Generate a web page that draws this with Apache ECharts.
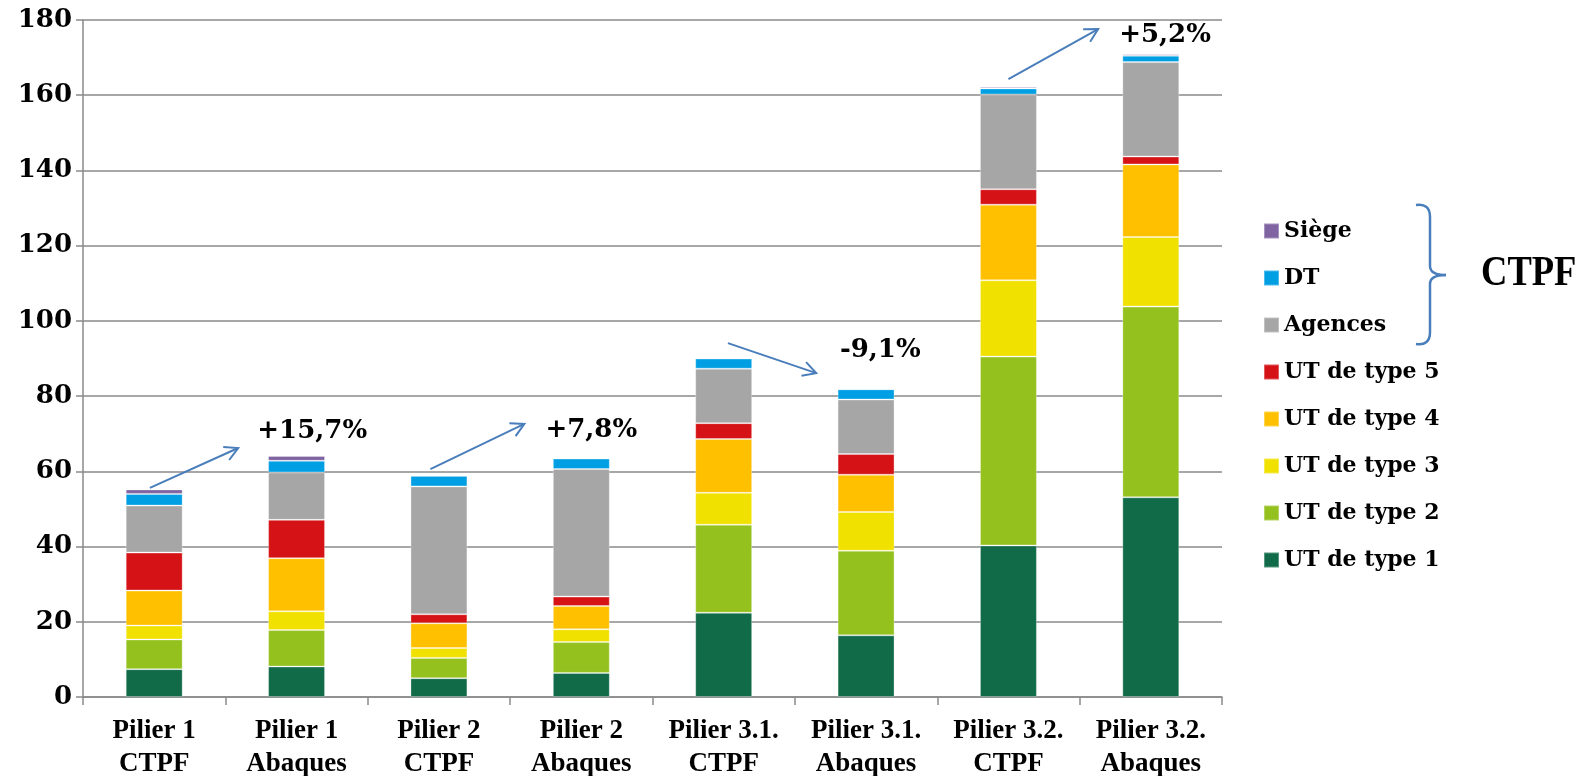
<!DOCTYPE html>
<html>
<head>
<meta charset="utf-8">
<script src="https://cdn.jsdelivr.net/npm/echarts@6/dist/echarts.min.js"></script>
<style>
  html, body { margin: 0; padding: 0; background: #fff; }
  #chart { width: 1582px; height: 776px; }
</style>
</head>
<body>
<div id="chart"></div>
<script>
// categories (x axis)
const categories = ['Pilier 1\nCTPF', 'Pilier 1\nAbaques', 'Pilier 2\nCTPF', 'Pilier 2\nAbaques',
                    'Pilier 3.1.\nCTPF', 'Pilier 3.1.\nAbaques', 'Pilier 3.2.\nCTPF', 'Pilier 3.2.\nAbaques']

// stacked series, bottom to top
const ut1     = [7.4, 8.1, 5.0, 6.4, 22.4, 16.4, 40.3, 53.1]
const ut2     = [7.9, 9.7, 5.4, 8.2, 23.4, 22.5, 50.2, 50.7]
const ut3     = [3.7, 5.0, 2.6, 3.4, 8.5, 10.3, 20.3, 18.5]
const ut4     = [9.3, 14.1, 6.6, 6.2, 14.3, 9.9, 20.1, 19.3]
const ut5     = [10.1, 10.2, 2.4, 2.5, 4.2, 5.5, 4.1, 2.1]
const agences = [12.5, 12.6, 34.0, 33.9, 14.5, 14.5, 25.2, 25.1]
const dt      = [3.1, 3.1, 2.8, 2.8, 2.7, 2.7, 1.6, 1.7]
const siege   = [1.2, 1.3, 0, 0.2, 0, 0, 0.4, 0.4]

// y axis
const yMin = 0
const yMax = 180
const yStep = 20

// variation labels (CTPF -> Abaques)
const changeLabels = ['+15,7%', '+7,8%', '-9,1%', '+5,2%']

const seriesDefs = [
    { name: 'UT de type 1', data: ut1, color: '#116b49' },
    { name: 'UT de type 2', data: ut2, color: '#95c11f' },
    { name: 'UT de type 3', data: ut3, color: '#f1e100' },
    { name: 'UT de type 4', data: ut4, color: '#ffc000' },
    { name: 'UT de type 5', data: ut5, color: '#d51317' },
    { name: 'Agences', data: agences, color: '#a6a6a6' },
    { name: 'DT', data: dt, color: '#009fe3' },
    { name: 'Siège', data: siege, color: '#8064a2' }
]

// annotation placement: [category, offset in category widths, y value]
const arrowPos = [
    { from: [0, -0.03, 55.6], to: [0, 0.59, 66.2] },
    { from: [2, -0.06, 60.6], to: [2, 0.60, 72.6] },
    { from: [4, 0.03, 94.1], to: [4, 0.65, 86.1] },
    { from: [6, 0.00, 164.3], to: [6, 0.63, 177.6] }
]
const labelPos = [[1, 0.11, 70.6], [3, 0.07, 71], [5, 0.10, 92.2], [7, 0.10, 175.9]]

const serif = '"DejaVu Serif", serif'
const gridColor = '#8a8a8a'
const arrowColor = '#4a7ebb'

const chart = echarts.init(document.getElementById('chart'))

const option = {
    animation: false,
    grid: { left: 83, right: 360, top: 20, bottom: 79, containLabel: false, outerBoundsMode: 'none' },
    legend: {
        orient: 'vertical',
        left: 1263,
        top: 220,
        padding: 0,
        icon: 'rect',
        itemWidth: 15,
        itemHeight: 15,
        itemGap: 25,
        data: ['Siège', 'DT', 'Agences', 'UT de type 5', 'UT de type 4', 'UT de type 3', 'UT de type 2', 'UT de type 1'],
        textStyle: { color: '#000', fontFamily: serif, fontWeight: 'bold', fontSize: 22, lineHeight: 22 }
    },
    xAxis: {
        type: 'category',
        data: categories,
        axisLine: { lineStyle: { color: gridColor, width: 1.5 } },
        axisTick: { show: true, interval: 0, length: 8, lineStyle: { color: gridColor, width: 1.5 } },
        axisLabel: {
            interval: 0,
            margin: 18,
            color: '#000',
            fontFamily: '"Liberation Serif", serif',
            fontWeight: 'bold',
            fontSize: 27,
            lineHeight: 33
        }
    },
    yAxis: {
        type: 'value',
        min: yMin,
        max: yMax,
        interval: yStep,
        axisLine: { show: true, lineStyle: { color: gridColor, width: 1.5 } },
        axisTick: { show: true, length: 7, lineStyle: { color: gridColor, width: 1.5 } },
        splitLine: { lineStyle: { color: gridColor, width: 1.5 } },
        axisLabel: { color: '#000', fontFamily: serif, fontWeight: 'bold', fontSize: 26, margin: 11 }
    },
    series: seriesDefs.map(s => ({
        name: s.name,
        type: 'bar',
        stack: 'total',
        barWidth: '40%',
        data: s.data,
        itemStyle: { color: s.color, borderColor: 'rgba(255,255,255,0.3)', borderWidth: 1 }
    }))
}

chart.setOption(option)

// annotations placed through the chart's own scales
const catW = chart.convertToPixel({ gridIndex: 0 }, [1, 0])[0] - chart.convertToPixel({ gridIndex: 0 }, [0, 0])[0]
function toPx(p) {
    const pt = chart.convertToPixel({ gridIndex: 0 }, [p[0], p[2]])
    return [pt[0] + p[1] * catW, pt[1]]
}

const graphics = []
arrowPos.forEach(a => {
    const s = toPx(a.from)
    const e = toPx(a.to)
    const ang = Math.atan2(e[1] - s[1], e[0] - s[0])
    const headLen = 15
    const spread = 0.5
    const h1 = [e[0] - headLen * Math.cos(ang - spread), e[1] - headLen * Math.sin(ang - spread)]
    const h2 = [e[0] - headLen * Math.cos(ang + spread), e[1] - headLen * Math.sin(ang + spread)]
    graphics.push({
        type: 'line', z: 100,
        shape: { x1: s[0], y1: s[1], x2: e[0], y2: e[1] },
        style: { stroke: arrowColor, lineWidth: 2 }
    })
    graphics.push({
        type: 'polyline', z: 100,
        shape: { points: [h1, e, h2] },
        style: { stroke: arrowColor, lineWidth: 2, fill: null }
    })
})
labelPos.forEach((p, i) => {
    const pt = toPx(p)
    graphics.push({
        type: 'text', z: 100, x: pt[0], y: pt[1],
        style: {
            text: changeLabels[i], fill: '#000',
            fontFamily: serif, fontWeight: 'bold', fontSize: 26,
            align: 'center', verticalAlign: 'middle',
            textAlign: 'center', textVerticalAlign: 'middle'
        }
    })
})

// brace grouping the CTPF-only series in the legend
const braceStyle = { stroke: arrowColor, lineWidth: 2.5, fill: null }
const bracePieces = [
    { type: 'bezierCurve', shape: { x1: 1416, y1: 205, cpx1: 1430, cpy1: 203, x2: 1430, y2: 217 } },
    { type: 'line', shape: { x1: 1430, y1: 217, x2: 1430, y2: 266 } },
    { type: 'bezierCurve', shape: { x1: 1430, y1: 266, cpx1: 1430, cpy1: 275, x2: 1446, y2: 275 } },
    { type: 'bezierCurve', shape: { x1: 1446, y1: 275, cpx1: 1430, cpy1: 275, x2: 1430, y2: 284 } },
    { type: 'line', shape: { x1: 1430, y1: 284, x2: 1430, y2: 332 } },
    { type: 'bezierCurve', shape: { x1: 1430, y1: 332, cpx1: 1430, cpy1: 346, x2: 1416, y2: 344 } }
]
bracePieces.forEach(p => graphics.push(Object.assign({ z: 100, style: braceStyle }, p)))

graphics.push({
    type: 'text', z: 100, x: 1481, y: 274, scaleX: 0.87,
    style: {
        text: 'CTPF', fill: '#000',
        fontFamily: '"Liberation Serif", serif', fontWeight: 'bold', fontSize: 42,
        align: 'left', verticalAlign: 'middle',
        textAlign: 'left', textVerticalAlign: 'middle'
    }
})

chart.setOption({ graphic: graphics })
</script>
</body>
</html>
